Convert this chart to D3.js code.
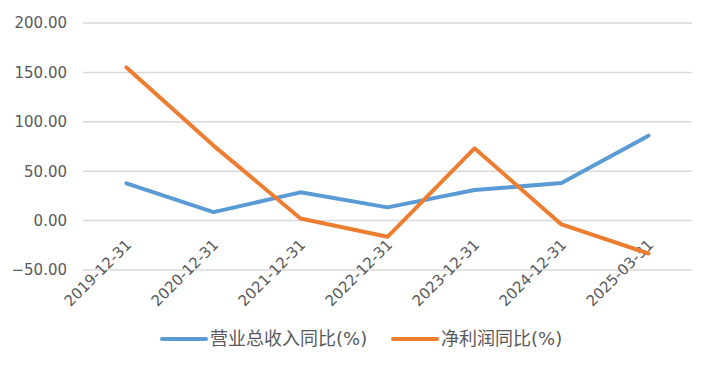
<!DOCTYPE html>
<html>
<head>
<meta charset="utf-8">
<script src="https://cdn.jsdelivr.net/npm/d3@7"></script>
<style>
  body { margin: 0; background: #fff; }
  svg { display: block; font-family: "DejaVu Sans", "Noto Sans CJK SC", sans-serif; }
</style>
</head>
<body>
<svg width="715" height="369"></svg>
<script>
const categories = ['2019-12-31', '2020-12-31', '2021-12-31', '2022-12-31', '2023-12-31', '2024-12-31', '2025-03-31'];
const revenueYoY = [37.7, 8.6, 28.6, 13.4, 30.9, 38.0, 86.0];
const profitYoY = [155.0, 75.9, 2.2, -16.4, 73.2, -3.9, -33.3];
const yTicks = [-50, 0, 50, 100, 150, 200];

const series = [
  { name: '营业总收入同比(%)', values: revenueYoY, color: '#5B9BD5' },
  { name: '净利润同比(%)', values: profitYoY, color: '#ED7D31' }
];

const svg = d3.select('svg');
const plotL = 83, plotR = 692, plotT = 23, plotB = 270;

const x = d3.scalePoint().domain(categories).range([plotL, plotR]).padding(0.5);
const y = d3.scaleLinear().domain([-50, 200]).range([plotB, plotT]);

// gridlines
svg.append('g')
  .selectAll('line')
  .data(yTicks)
  .join('line')
  .attr('x1', plotL).attr('x2', plotR)
  .attr('y1', d => y(d)).attr('y2', d => y(d))
  .attr('stroke', '#D9D9D9')
  .attr('stroke-width', 1.5);

// y axis labels
const yAxis = svg.append('g')
  .attr('transform', 'translate(' + (plotL - 16) + ',0)')
  .call(d3.axisLeft(y).tickValues(yTicks).tickFormat(d3.format('.2f')).tickSize(0).tickPadding(0));
yAxis.select('.domain').remove();
yAxis.selectAll('text')
  .attr('fill', '#595959')
  .attr('font-family', '"DejaVu Sans", sans-serif')
  .attr('font-size', '15px');

// x axis labels
svg.append('g')
  .selectAll('text')
  .data(categories)
  .join('text')
  .attr('transform', d => 'translate(' + (x(d) + 2) + ',' + (plotB - 28) + ') rotate(-45)')
  .attr('text-anchor', 'end')
  .attr('dy', '0.35em')
  .attr('fill', '#595959')
  .attr('font-size', '15px')
  .text(d => d);

// lines
const line = d3.line()
  .x((d, i) => x(categories[i]))
  .y(d => y(d));

svg.append('g')
  .selectAll('path')
  .data(series)
  .join('path')
  .attr('d', d => line(d.values))
  .attr('fill', 'none')
  .attr('stroke', d => d.color)
  .attr('stroke-width', 4)
  .attr('stroke-linejoin', 'round')
  .attr('stroke-linecap', 'round');

// legend
const legendX = [162, 393];
const legend = svg.append('g')
  .selectAll('g')
  .data(series)
  .join('g')
  .attr('transform', (d, i) => 'translate(' + legendX[i] + ',339)');
legend.append('line')
  .attr('x1', 0).attr('x2', 44)
  .attr('stroke', d => d.color)
  .attr('stroke-width', 4)
  .attr('stroke-linecap', 'round');
legend.append('text')
  .attr('x', 48)
  .attr('dy', '0.35em')
  .attr('fill', '#595959')
  .attr('font-size', '18px')
  .text(d => d.name);
</script>
</body>
</html>
